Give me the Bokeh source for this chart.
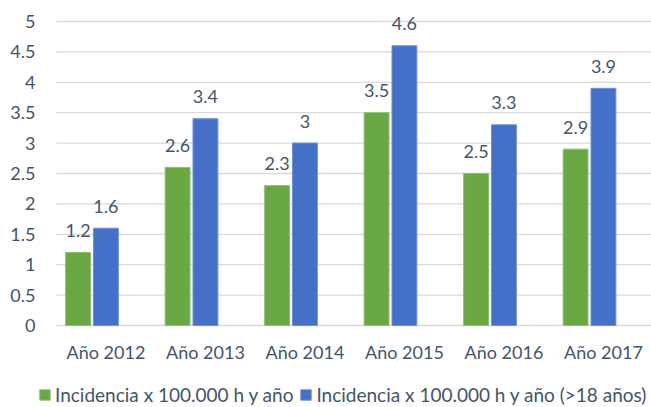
from bokeh.plotting import figure
from bokeh.models import ColumnDataSource, Legend, LegendItem, LabelSet, Range1d
from bokeh.core.properties import value
from bokeh.embed import file_html
from bokeh.resources import INLINE

categories = ["Año 2012", "Año 2013", "Año 2014", "Año 2015", "Año 2016", "Año 2017"]
incidencia = [1.2, 2.6, 2.3, 3.5, 2.5, 2.9]
incidencia_18 = [1.6, 3.4, 3.0, 4.6, 3.3, 3.9]
series_names = ["Incidencia x 100.000 h y año", "Incidencia x 100.000 h y año (>18 años)"]
y_ticks = [0, 0.5, 1, 1.5, 2, 2.5, 3, 3.5, 4, 4.5, 5]
y_tick_labels = ["0", "0.5", "1", "1.5", "2", "2.5", "3", "3.5", "4", "4.5", "5"]

FONT = "Lato"
TXT = "#44546A"
GRID = "#d9d9d9"
GREEN = "#69a842"
BLUE = "#4470c8"
GREEN_EDGE = "#8cc06c"
BLUE_EDGE = "#6f8fd6"
BAR_W = 0.25
DODGE = 0.14
LABEL_SHIFT = 0.14

# plot area geometry (data units)
X_START, X_END = -0.9196, 5.623
GRID_LEFT = -0.3568
Y_START, Y_END = -1.349, 5.345


def fmt(v):
    return "%g" % v


idx = list(range(len(categories)))
src = ColumnDataSource(dict(
    xg=[i - DODGE for i in idx],
    xb=[i + DODGE for i in idx],
    g=incidencia,
    b=incidencia_18,
    gl=[fmt(v) for v in incidencia],
    bl=[fmt(v) for v in incidencia_18],
))
cat_src = ColumnDataSource(dict(x=[i + LABEL_SHIFT for i in idx],
                                y=[0] * len(idx), t=categories))
tick_src = ColumnDataSource(dict(x0=[GRID_LEFT] * len(y_ticks),
                                 x1=[X_END] * len(y_ticks),
                                 y=y_ticks, t=y_tick_labels))

p = figure(width=651, height=407,
           x_range=Range1d(X_START, X_END), y_range=Range1d(Y_START, Y_END),
           output_backend="svg", toolbar_location=None,
           x_axis_location=None, y_axis_location=None, min_border=0)
p.outline_line_color = None
p.grid.visible = False

# gridlines (value axis)
p.segment(x0="x0", y0="y", x1="x1", y1="y", source=tick_src,
          line_color=GRID, line_width=1.3)

rg = p.vbar(x="xg", top="g", bottom=0, width=BAR_W, source=src,
            fill_color=GREEN, line_color=GREEN_EDGE, line_width=1)
rb = p.vbar(x="xb", top="b", bottom=0, width=BAR_W, source=src,
            fill_color=BLUE, line_color=BLUE_EDGE, line_width=1)

text_style = dict(text_font=value(FONT), text_font_size=value("18px"),
                  text_color=value(TXT))

# value labels
for col, ycol, lab in (("xg", "g", "gl"), ("xb", "b", "bl")):
    p.add_layout(LabelSet(x=col, y=ycol, text=lab, source=src, y_offset=22,
                          text_align="center", text_baseline="middle",
                          **text_style))

# value-axis tick labels
p.add_layout(LabelSet(x="x0", y="y", text="t", source=tick_src, x_offset=-21,
                      text_align="right", text_baseline="middle",
                      **text_style))

# category-axis labels
p.add_layout(LabelSet(x="x", y="y", text="t", source=cat_src, y_offset=-27,
                      text_align="center", text_baseline="middle",
                      **text_style))

legend = Legend(items=[LegendItem(label=series_names[0], renderers=[rg]),
                       LegendItem(label=series_names[1], renderers=[rb])],
                orientation="horizontal", location=(38, 1),
                glyph_width=13, glyph_height=13, label_standoff=4, spacing=6,
                padding=0, margin=0, border_line_color=None,
                background_fill_alpha=0,
                label_text_font=FONT, label_text_font_size="19px",
                label_text_color=TXT)
p.add_layout(legend, "center")

open("out.html", "w").write(file_html(p, INLINE))
